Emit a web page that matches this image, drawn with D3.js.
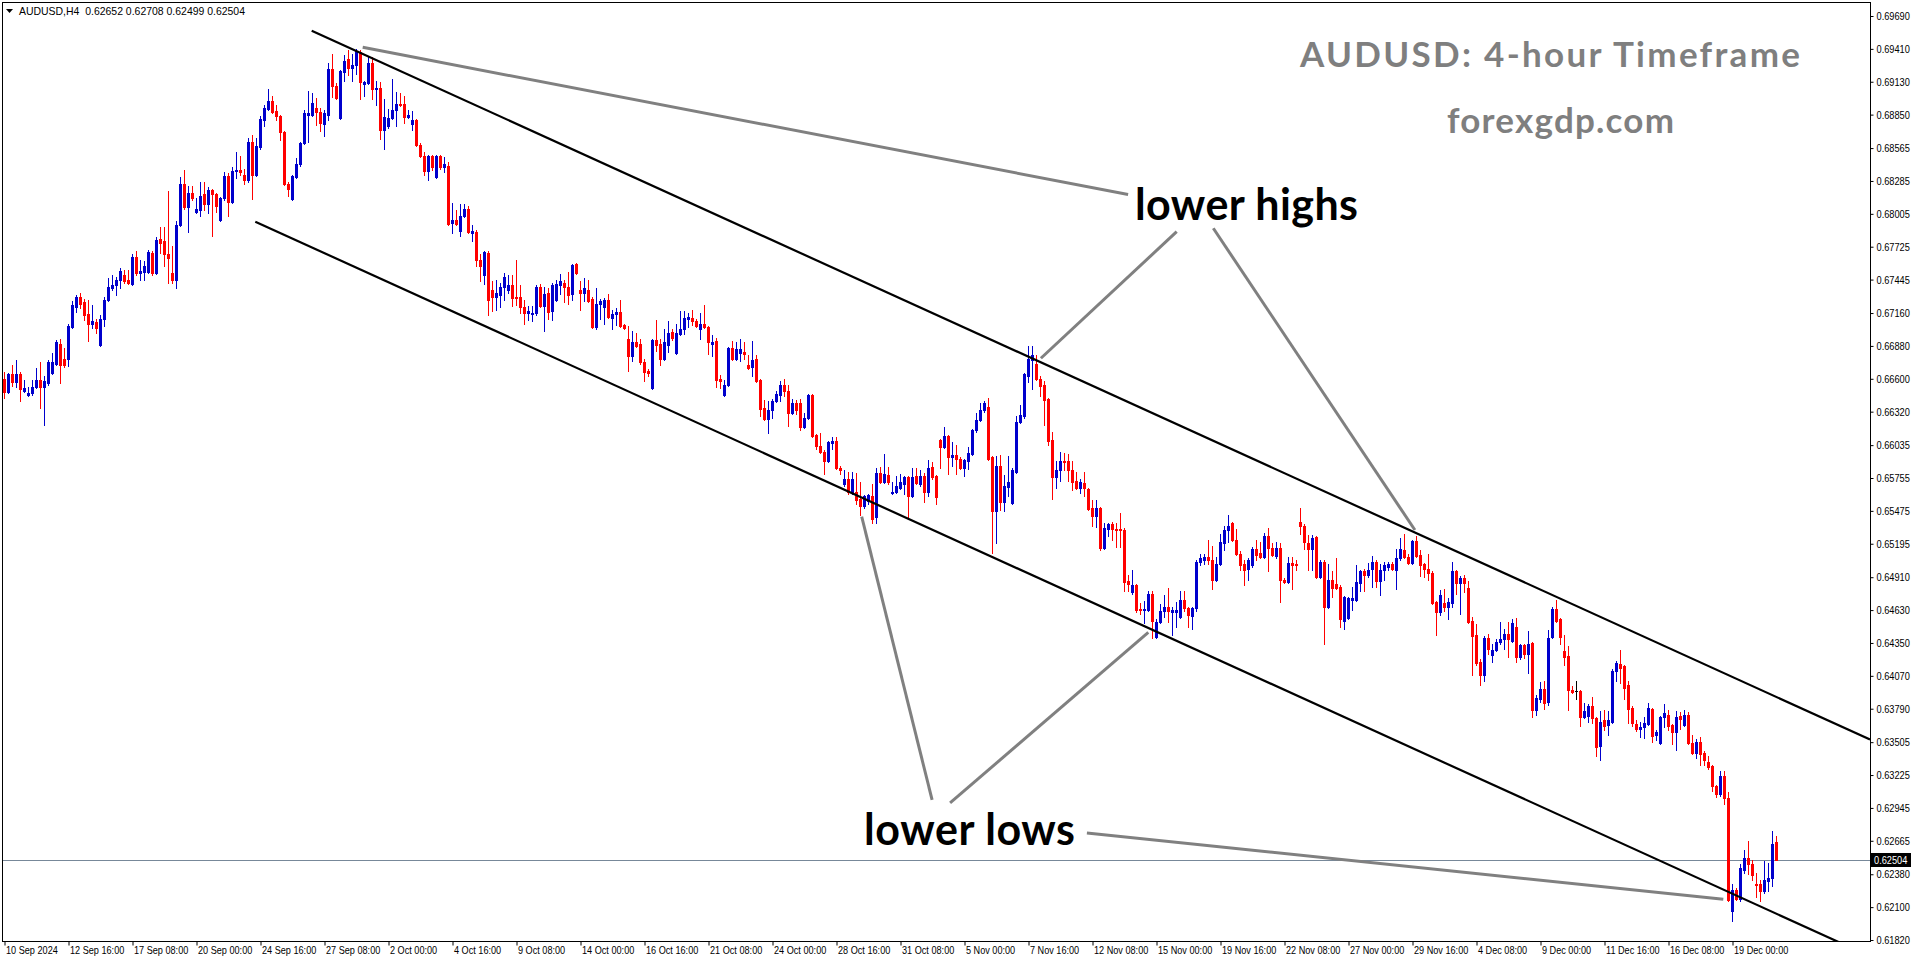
<!DOCTYPE html>
<html><head><meta charset="utf-8">
<script src="https://cdn.jsdelivr.net/npm/d3@7"></script>
<style>
html,body{margin:0;padding:0;background:#fff;}
svg{display:block;}
.ax text,.hdr{font-family:"Liberation Sans Narrow","Arial Narrow","Liberation Sans",sans-serif;font-size:11px;fill:#000;}
.big{font-family:Lato,"Open Sans",sans-serif;font-weight:700;}
</style></head><body>
<svg id="chart" width="1916" height="964"></svg>
<script>
// ---- data (AUDUSD H4, prices) ----
const symbolInfo = "AUDUSD,H4";
const lastOHLC = [0.62652, 0.62708, 0.62499, 0.62504];
const opens = [.6660,.6649,.6664,.6657,.6664,.6650,.6646,.6648,.6653,.6659,
.6653,.6656,.6665,.6673,.6690,.6677,.6677,.6704,.6721,.6730,
.6725,.6715,.6707,.6708,.6689,.6711,.6727,.6737,.6740,.6744,
.6748,.6744,.6741,.6764,.6750,.6751,.6751,.6767,.6750,.6779,
.6777,.6766,.6750,.6744,.6791,.6826,.6806,.6818,.6802,.6804,
.6817,.6809,.6821,.6817,.6795,.6814,.6833,.6811,.6837,.6838,
.6834,.6829,.6862,.6834,.6857,.6880,.6890,.6897,.6888,.6884,
.6870,.6826,.6813,.6832,.6843,.6861,.6885,.6885,.6891,.6887,
.6877,.6885,.6924,.6909,.6882,.6921,.6932,.6925,.6927,.6938,
.6911,.6912,.6929,.6907,.6908,.6872,.6875,.6882,.6889,.6894,
.6894,.6883,.6877,.6880,.6859,.6850,.6837,.6850,.6832,.6850,
.6840,.6841,.6793,.6795,.6786,.6799,.6805,.6784,.6785,.6761,
.6748,.6767,.6736,.6730,.6731,.6738,.6736,.6740,.6730,.6730,
.6721,.6716,.6715,.6716,.6738,.6722,.6733,.6718,.6727,.6740,
.6742,.6738,.6732,.6758,.6736,.6733,.6736,.6728,.6704,.6724,
.6721,.6727,.6712,.6715,.6717,.6706,.6694,.6679,.6691,.6690,
.6674,.6667,.6652,.6693,.6690,.6677,.6689,.6700,.6682,.6698,
.6702,.6711,.6712,.6709,.6702,.6707,.6704,.6690,.6692,.6660,
.6646,.6655,.6686,.6677,.6682,.6683,.6672,.6670,.6677,.6659,
.6635,.6626,.6633,.6641,.6646,.6655,.6650,.6631,.6639,.6639,
.6619,.6627,.6646,.6612,.6603,.6598,.6590,.6605,.6607,.6584,
.6570,.6575,.6564,.6564,.6558,.6552,.6556,.6560,.6542,.6580,
.6572,.6578,.6563,.6564,.6567,.6570,.6576,.6560,.6577,.6570,
.6577,.6564,.6585,.6577,.6608,.6602,.6611,.6593,.6595,.6592,
.6584,.6590,.6596,.6616,.6625,.6633,.6636,.6593,.6547,.6586,
.6555,.6568,.6554,.6581,.6623,.6628,.6662,.6676,.6673,.6660,
.6655,.6643,.6608,.6576,.6582,.6590,.6590,.6582,.6573,.6567,
.6571,.6566,.6550,.6543,.6550,.6516,.6532,.6536,.6532,.6532,
.6531,.6488,.6478,.6484,.6464,.6463,.6463,.6477,.6440,.6453,
.6462,.6466,.6461,.6461,.6457,.6472,.6465,.6458,.6465,.6504,
.6506,.6508,.6506,.6489,.6502,.6520,.6531,.6537,.6523,.6511,
.6502,.6498,.6501,.6515,.6512,.6508,.6526,.6516,.6509,.6516,
.6489,.6487,.6503,.6502,.6538,.6535,.6520,.6515,.6525,.6491,
.6504,.6466,.6489,.6485,.6483,.6454,.6456,.6472,.6472,.6486,
.6496,.6493,.6498,.6504,.6488,.6497,.6500,.6502,.6497,.6507,
.6514,.6508,.6503,.6522,.6510,.6502,.6498,.6495,.6470,.6461,
.6469,.6466,.6469,.6496,.6486,.6490,.6482,.6454,.6442,.6419,
.6408,.6439,.6425,.6429,.6436,.6438,.6443,.6437,.6449,.6423,
.6433,.6426,.6435,.6378,.6387,.6396,.6385,.6440,.6464,.6455,
.6428,.6424,.6395,.6394,.6394,.6372,.6373,.6381,.6371,.6347,
.6369,.6365,.6368,.6411,.6417,.6415,.6399,.6380,.6366,.6362,
.6363,.6366,.6379,.6357,.6350,.6372,.6374,.6365,.6359,.6373,
.6365,.6374,.6350,.6341,.6351,.6341,.6334,.6330,.6313,.6306,
.6322,.6303,.6207,.6225,.6217,.6242,.6252,.6247,.6230,.6230,
.6224,.6232,.6235,.62652];
const highs = [.6666,.6665,.6672,.6676,.6666,.6659,.6653,.6659,.6669,.6674,
.6662,.6676,.6682,.6693,.6694,.6686,.6707,.6726,.6731,.6733,
.6728,.6727,.6723,.6711,.6714,.6730,.6746,.6748,.6747,.6754,
.6753,.6753,.6766,.6769,.6761,.6760,.6770,.6769,.6781,.6789,
.6789,.6820,.6773,.6794,.6832,.6838,.6824,.6824,.6814,.6828,
.6828,.6823,.6822,.6818,.6815,.6836,.6835,.6840,.6853,.6850,
.6839,.6865,.6868,.6865,.6884,.6893,.6907,.6901,.6893,.6885,
.6871,.6828,.6834,.6848,.6862,.6889,.6905,.6903,.6899,.6891,
.6889,.6929,.6937,.6912,.6923,.6936,.6940,.6937,.6941,.6940,
.6914,.6935,.6934,.6914,.6913,.6898,.6890,.6915,.6904,.6903,
.6901,.6889,.6888,.6881,.6861,.6853,.6851,.6851,.6851,.6851,
.6849,.6845,.6810,.6804,.6809,.6809,.6807,.6791,.6787,.6766,
.6769,.6769,.6743,.6744,.6742,.6750,.6748,.6748,.6761,.6740,
.6727,.6722,.6722,.6740,.6741,.6738,.6737,.6742,.6744,.6749,
.6744,.6751,.6758,.6759,.6743,.6746,.6744,.6730,.6737,.6728,
.6729,.6732,.6719,.6720,.6727,.6707,.6705,.6701,.6699,.6694,
.6677,.6668,.6694,.6710,.6694,.6702,.6709,.6702,.6707,.6718,
.6718,.6716,.6719,.6711,.6716,.6723,.6705,.6697,.6695,.6663,
.6659,.6687,.6692,.6691,.6694,.6691,.6680,.6692,.6680,.6660,
.6642,.6641,.6643,.6650,.6658,.6660,.6655,.6643,.6642,.6643,
.6631,.6647,.6647,.6613,.6614,.6599,.6607,.6610,.6610,.6586,
.6582,.6581,.6581,.6580,.6572,.6561,.6562,.6570,.6584,.6585,
.6596,.6585,.6572,.6577,.6579,.6577,.6577,.6584,.6584,.6582,
.6580,.6591,.6589,.6578,.6609,.6619,.6612,.6606,.6604,.6593,
.6592,.6602,.6617,.6631,.6639,.6641,.6644,.6594,.6594,.6595,
.6578,.6594,.6584,.6628,.6638,.6665,.6688,.6688,.6680,.6662,
.6658,.6644,.6615,.6590,.6598,.6597,.6596,.6590,.6581,.6575,
.6581,.6567,.6557,.6557,.6551,.6537,.6537,.6538,.6537,.6546,
.6533,.6493,.6497,.6485,.6469,.6471,.6479,.6479,.6455,.6468,
.6476,.6482,.6466,.6470,.6479,.6479,.6466,.6466,.6506,.6511,
.6511,.6523,.6518,.6508,.6528,.6535,.6544,.6538,.6532,.6513,
.6506,.6507,.6517,.6523,.6521,.6529,.6533,.6520,.6521,.6520,
.6490,.6508,.6508,.6506,.6550,.6536,.6527,.6527,.6526,.6506,
.6506,.6502,.6496,.6507,.6484,.6475,.6474,.6483,.6501,.6497,
.6498,.6503,.6509,.6506,.6502,.6504,.6504,.6504,.6515,.6524,
.6528,.6511,.6523,.6526,.6514,.6503,.6511,.6496,.6471,.6480,
.6481,.6473,.6504,.6497,.6492,.6493,.6488,.6457,.6451,.6421,
.6441,.6443,.6434,.6438,.6453,.6447,.6453,.6455,.6456,.6434,
.6434,.6445,.6436,.6391,.6402,.6403,.6446,.6466,.6472,.6456,
.6442,.6432,.6398,.6403,.6395,.6384,.6383,.6389,.6372,.6377,
.6378,.6377,.6413,.6420,.6429,.6416,.6403,.6381,.6369,.6368,
.6372,.6384,.6380,.6361,.6373,.6383,.6378,.6366,.6377,.6376,
.6378,.6376,.6357,.6353,.6355,.6343,.6339,.6331,.6314,.6326,
.6326,.6308,.6230,.6226,.6247,.6259,.6266,.6250,.6239,.6233,
.6249,.6248,.6275,.62708];
const lows = [.6644,.6648,.6654,.6653,.6641,.6649,.6645,.6646,.6652,.6635,
.6621,.6655,.6664,.6672,.6656,.6670,.6671,.6703,.6717,.6720,
.6710,.6692,.6703,.6699,.6688,.6705,.6726,.6736,.6731,.6737,
.6742,.6741,.6740,.6748,.6744,.6744,.6750,.6748,.6749,.6767,
.6756,.6742,.6742,.6737,.6790,.6805,.6785,.6812,.6801,.6799,
.6804,.6801,.6782,.6802,.6794,.6812,.6799,.6810,.6831,.6834,
.6826,.6828,.6813,.6833,.6856,.6875,.6889,.6886,.6880,.6863,
.6825,.6816,.6812,.6831,.6841,.6860,.6862,.6884,.6876,.6871,
.6867,.6880,.6900,.6898,.6881,.6914,.6919,.6914,.6920,.6898,
.6901,.6911,.6898,.6893,.6864,.6856,.6874,.6881,.6875,.6892,
.6878,.6882,.6872,.6858,.6849,.6834,.6829,.6838,.6831,.6839,
.6836,.6791,.6784,.6791,.6782,.6798,.6784,.6777,.6756,.6743,
.6741,.6714,.6718,.6719,.6721,.6727,.6733,.6722,.6723,.6716,
.6707,.6710,.6709,.6714,.6721,.6701,.6711,.6710,.6726,.6732,
.6725,.6724,.6727,.6749,.6719,.6726,.6725,.6703,.6702,.6711,
.6707,.6712,.6702,.6706,.6704,.6702,.6667,.6675,.6687,.6673,
.6658,.6662,.6651,.6684,.6672,.6676,.6683,.6693,.6681,.6697,
.6698,.6704,.6706,.6704,.6694,.6703,.6681,.6679,.6653,.6652,
.6645,.6654,.6676,.6676,.6675,.6677,.6668,.6662,.6657,.6628,
.6625,.6614,.6627,.6640,.6641,.6645,.6620,.6630,.6630,.6616,
.6618,.6626,.6610,.6600,.6597,.6579,.6589,.6600,.6583,.6579,
.6569,.6562,.6562,.6553,.6544,.6550,.6553,.6537,.6537,.6571,
.6571,.6570,.6562,.6563,.6566,.6562,.6541,.6559,.6570,.6569,
.6555,.6560,.6575,.6553,.6584,.6601,.6579,.6586,.6579,.6583,
.6577,.6583,.6595,.6615,.6624,.6632,.6591,.6512,.6520,.6548,
.6547,.6560,.6553,.6580,.6622,.6627,.6657,.6651,.6659,.6645,
.6621,.6604,.6558,.6567,.6573,.6582,.6573,.6565,.6566,.6563,
.6560,.6548,.6535,.6534,.6514,.6515,.6526,.6523,.6517,.6517,
.6479,.6479,.6477,.6461,.6460,.6452,.6462,.6439,.6439,.6452,
.6457,.6453,.6442,.6449,.6456,.6462,.6449,.6447,.6462,.6501,
.6502,.6502,.6481,.6488,.6501,.6514,.6521,.6522,.6510,.6497,
.6484,.6489,.6500,.6506,.6507,.6507,.6496,.6509,.6507,.6470,
.6486,.6486,.6481,.6497,.6528,.6515,.6497,.6497,.6490,.6490,
.6434,.6465,.6474,.6481,.6449,.6447,.6455,.6463,.6471,.6479,
.6479,.6491,.6483,.6483,.6476,.6489,.6497,.6497,.6481,.6506,
.6507,.6502,.6502,.6508,.6492,.6491,.6489,.6468,.6442,.6459,
.6462,.6455,.6466,.6477,.6460,.6478,.6452,.6408,.6416,.6399,
.6403,.6426,.6419,.6428,.6434,.6430,.6423,.6436,.6419,.6421,
.6422,.6409,.6372,.6374,.6385,.6379,.6382,.6439,.6453,.6434,
.6416,.6378,.6392,.6387,.6364,.6371,.6368,.6367,.6339,.6335,
.6361,.6357,.6367,.6403,.6401,.6387,.6367,.6364,.6360,.6355,
.6354,.6365,.6351,.6352,.6349,.6363,.6361,.6349,.6344,.6362,
.6364,.6349,.6340,.6337,.6331,.6331,.6328,.6309,.6304,.6305,
.6298,.6215,.6198,.6216,.6215,.6239,.6238,.6233,.6219,.6215,
.6222,.6224,.6228,.62499];
const closes = [.6649,.6664,.6657,.6664,.6651,.6652,.6648,.6653,.6659,.6653,
.6658,.6674,.6674,.6691,.6672,.6672,.6705,.6723,.6730,.6724,
.6714,.6707,.6709,.6703,.6711,.6727,.6738,.6740,.6744,.6752,
.6743,.6742,.6764,.6750,.6752,.6756,.6768,.6750,.6778,.6776,
.6766,.6763,.6744,.6791,.6826,.6806,.6818,.6814,.6805,.6816,
.6809,.6821,.6817,.6807,.6814,.6833,.6811,.6837,.6838,.6836,
.6829,.6862,.6834,.6858,.6881,.6891,.6897,.6887,.6884,.6870,
.6826,.6822,.6833,.6843,.6861,.6886,.6886,.6895,.6887,.6878,
.6886,.6924,.6909,.6899,.6922,.6931,.6925,.6927,.6939,.6913,
.6913,.6929,.6907,.6908,.6872,.6883,.6882,.6889,.6894,.6893,
.6883,.6885,.6880,.6859,.6850,.6837,.6850,.6840,.6850,.6840,
.6843,.6792,.6795,.6792,.6799,.6805,.6785,.6786,.6761,.6756,
.6768,.6727,.6730,.6733,.6738,.6747,.6740,.6729,.6729,.6721,
.6716,.6718,.6716,.6738,.6722,.6732,.6717,.6740,.6741,.6743,
.6738,.6731,.6757,.6750,.6733,.6737,.6726,.6704,.6724,.6726,
.6727,.6713,.6715,.6717,.6705,.6703,.6679,.6691,.6688,.6674,
.6666,.6665,.6693,.6689,.6677,.6691,.6699,.6695,.6699,.6702,
.6712,.6713,.6709,.6705,.6707,.6704,.6691,.6691,.6659,.6658,
.6655,.6686,.6677,.6685,.6685,.6681,.6669,.6676,.6658,.6634,
.6626,.6633,.6641,.6647,.6655,.6650,.6631,.6639,.6633,.6619,
.6627,.6646,.6611,.6603,.6598,.6590,.6606,.6607,.6584,.6582,
.6575,.6564,.6575,.6557,.6552,.6560,.6561,.6541,.6580,.6572,
.6579,.6572,.6564,.6569,.6572,.6576,.6560,.6576,.6571,.6577,
.6564,.6584,.6576,.6559,.6602,.6611,.6593,.6595,.6592,.6584,
.6591,.6597,.6616,.6625,.6633,.6639,.6592,.6547,.6586,.6555,
.6569,.6572,.6582,.6623,.6629,.6664,.6677,.6680,.6660,.6654,
.6642,.6607,.6576,.6582,.6590,.6589,.6582,.6572,.6567,.6572,
.6567,.6549,.6543,.6550,.6516,.6533,.6536,.6532,.6531,.6531,
.6487,.6485,.6484,.6463,.6463,.6464,.6477,.6454,.6453,.6462,
.6466,.6462,.6463,.6463,.6472,.6465,.6459,.6465,.6504,.6507,
.6508,.6506,.6489,.6502,.6521,.6531,.6535,.6523,.6511,.6501,
.6497,.6506,.6515,.6510,.6508,.6526,.6516,.6510,.6516,.6489,
.6487,.6503,.6501,.6501,.6535,.6521,.6515,.6524,.6491,.6504,
.6466,.6489,.6482,.6482,.6455,.6474,.6473,.6473,.6487,.6496,
.6493,.6497,.6504,.6488,.6497,.6501,.6502,.6498,.6507,.6515,
.6508,.6503,.6522,.6509,.6501,.6498,.6495,.6469,.6461,.6476,
.6466,.6470,.6496,.6486,.6490,.6486,.6453,.6441,.6418,.6408,
.6439,.6430,.6429,.6436,.6438,.6443,.6438,.6452,.6423,.6433,
.6426,.6434,.6378,.6388,.6396,.6384,.6439,.6464,.6454,.6440,
.6423,.6395,.6393,.6394,.6372,.6377,.6381,.6371,.6346,.6368,
.6364,.6369,.6411,.6418,.6414,.6397,.6379,.6367,.6362,.6363,
.6367,.6380,.6356,.6359,.6372,.6375,.6364,.6359,.6372,.6370,
.6374,.6350,.6341,.6351,.6340,.6335,.6329,.6313,.6306,.6322,
.6303,.6216,.6225,.6217,.6243,.6252,.6247,.6237,.6229,.6224,
.6233,.6235,.6264,.62504];

const yTickLabels = [0.69690,0.69410,0.69130,0.68850,0.68565,0.68285,0.68005,0.67725,0.67445,0.67160,
0.66880,0.66600,0.66320,0.66035,0.65755,0.65475,0.65195,0.64910,0.64630,0.64350,0.64070,0.63790,
0.63505,0.63225,0.62945,0.62665,0.62380,0.62100,0.61820];
const xTickIndex = [0,16,32,48,64,80,96,112,128,144,160,176,192,208,224,240,256,272,288,304,320,336,352,368,384,400,416,432];
const xTickLabels = ["10 Sep 2024","12 Sep 16:00","17 Sep 08:00","20 Sep 00:00","24 Sep 16:00","27 Sep 08:00",
"2 Oct 00:00","4 Oct 16:00","9 Oct 08:00","14 Oct 00:00","16 Oct 16:00","21 Oct 08:00","24 Oct 00:00",
"28 Oct 16:00","31 Oct 08:00","5 Nov 00:00","7 Nov 16:00","12 Nov 08:00","15 Nov 00:00","19 Nov 16:00",
"22 Nov 08:00","27 Nov 00:00","29 Nov 16:00","4 Dec 08:00","9 Dec 00:00","11 Dec 16:00","16 Dec 08:00","19 Dec 00:00"];

// channel lines (bar index, price) anchors
const channelUpper = [[76.8, 0.69565], [408.9, 0.64418]];
const channelLower = [[62.7, 0.67938], [408.9, 0.62572]];
// grey pointer lines (bar index, price)
const pointerLines = [
  [[89.55, 0.69423], [280.9, 0.68170]],
  [[293.05, 0.67853], [259.1, 0.66775]],
  [[302.2, 0.67882], [352.6, 0.65312]],
  [[214.3, 0.65426], [231.9, 0.63013]],
  [[285.95, 0.64441], [236.4, 0.62987]],
  [[270.6, 0.62732], [429.7, 0.62167]]
];
const titleText = "AUDUSD: 4-hour Timeframe";
const siteText = "forexgdp.com";
const noteHighs = "lower highs";
const noteLows = "lower lows";

// ---- layout ----
const W = 1916, H = 964;
const plot = {l: 2, t: 2, r: 1870, b: 941};
const svg = d3.select("#chart");
const x = d3.scaleLinear().domain([0, 1]).range([4.5, 8.5]);
const y = d3.scaleLinear().domain([0.61820, 0.69690]).range([940, 16]);

svg.append("rect").attr("width", W).attr("height", H).attr("fill", "#fff");

const defs = svg.append("defs");
defs.append("clipPath").attr("id", "pc").append("rect")
  .attr("x", plot.l + 1).attr("y", plot.t + 1).attr("width", plot.r - plot.l - 1).attr("height", plot.b - plot.t - 1);

const g = svg.append("g").attr("clip-path", "url(#pc)");

// bid line
g.append("line").attr("x1", plot.l).attr("x2", plot.r)
  .attr("y1", Math.round(y(lastOHLC[3])) + 0.5).attr("y2", Math.round(y(lastOHLC[3])) + 0.5)
  .attr("stroke", "#778899").attr("stroke-width", 1);

// candles
const idx = d3.range(opens.length);
const col = i => closes[i] > opens[i] ? "#0000cc" : (closes[i] < opens[i] ? "#ff0000" : "#000000");
const cg = g.append("g").attr("shape-rendering", "crispEdges");
cg.selectAll("rect.w").data(idx).join("rect").attr("class", "w")
  .attr("x", i => x(i) - 0.5).attr("width", 1)
  .attr("y", i => Math.round(y(highs[i])))
  .attr("height", i => Math.max(1, Math.round(y(lows[i])) - Math.round(y(highs[i])) + 1))
  .attr("fill", col);
cg.selectAll("rect.b").data(idx).join("rect").attr("class", "b")
  .attr("x", i => x(i) - 1.5).attr("width", 3)
  .attr("y", i => Math.round(y(Math.max(opens[i], closes[i]))))
  .attr("height", i => Math.max(1, Math.round(y(Math.min(opens[i], closes[i]))) - Math.round(y(Math.max(opens[i], closes[i]))) + 1))
  .attr("fill", col);

// channel lines extended to right edge
const iEnd = x.invert(plot.r);
function extend(a) {
  const [p, q] = a; const s = (q[1] - p[1]) / (q[0] - p[0]);
  return [p, [iEnd, p[1] + s * (iEnd - p[0])]];
}
[channelUpper, channelLower].forEach(c => {
  const e = extend(c);
  g.append("line").attr("x1", x(e[0][0])).attr("y1", y(e[0][1])).attr("x2", x(e[1][0])).attr("y2", y(e[1][1]))
    .attr("stroke", "#000").attr("stroke-width", 2.2);
});

// pointer lines
pointerLines.forEach(pl => {
  g.append("line").attr("x1", x(pl[0][0])).attr("y1", y(pl[0][1])).attr("x2", x(pl[1][0])).attr("y2", y(pl[1][1]))
    .attr("stroke", "#808080").attr("stroke-width", 3);
});

// texts
svg.append("text").attr("class", "big").attr("x", 1300).attr("y", 67).attr("font-size", 35)
  .attr("fill", "#7f7f7f").attr("textLength", 500).text(titleText);
svg.append("text").attr("class", "big").attr("x", 1447).attr("y", 133).attr("font-size", 35)
  .attr("fill", "#7f7f7f").attr("textLength", 227).text(siteText);
svg.append("text").attr("class", "big").attr("x", 1135).attr("y", 220).attr("font-size", 43)
  .attr("fill", "#000").attr("textLength", 223).text(noteHighs);
svg.append("text").attr("class", "big").attr("x", 864).attr("y", 845).attr("font-size", 43)
  .attr("fill", "#000").attr("textLength", 211).text(noteLows);

// frame
svg.append("rect").attr("x", plot.l + 0.5).attr("y", plot.t + 0.5)
  .attr("width", plot.r - plot.l).attr("height", plot.b - plot.t)
  .attr("fill", "none").attr("stroke", "#000").attr("stroke-width", 1).attr("shape-rendering", "crispEdges");

// narrow (Tahoma-like) text: condense the fallback font horizontally
function condense(sel, k) {
  sel.each(function() {
    const n = this.getComputedTextLength();
    if (n > 0) d3.select(this).attr("textLength", (n * k).toFixed(1)).attr("lengthAdjust", "spacingAndGlyphs");
  });
}

// y axis
const ya = svg.append("g").attr("class", "ax").attr("transform", `translate(${plot.r + 0.5},0)`)
  .call(d3.axisRight(y).tickValues(yTickLabels).tickSize(3).tickPadding(3).tickFormat(d3.format(".5f")));
ya.select(".domain").remove();
ya.selectAll(".tick line").attr("stroke", "#000");
condense(ya.selectAll(".tick text"), 0.84);

// x axis
const xa = svg.append("g").attr("class", "ax").attr("transform", `translate(0,${plot.b + 0.5})`)
  .call(d3.axisBottom(x).tickValues(xTickIndex).tickSize(4).tickFormat((d, i) => xTickLabels[i]));
xa.select(".domain").remove();
xa.selectAll(".tick line").attr("stroke", "#000");
xa.selectAll(".tick text").attr("text-anchor", "start").attr("x", 1).attr("y", 5).attr("dy", "0.71em");
condense(xa.selectAll(".tick text"), 0.83);

// current price tag
const yp = Math.round(y(lastOHLC[3]));
svg.append("rect").attr("x", plot.r + 1).attr("y", yp - 7).attr("width", 40).attr("height", 14).attr("fill", "#000");
const tag = svg.append("text").attr("class", "hdr").attr("x", plot.r + 4).attr("y", yp).attr("dy", "0.35em")
  .style("fill", "#fff").text(d3.format(".5f")(lastOHLC[3]));
condense(tag, 0.84);

// header
svg.append("path").attr("d", "M6,9 L13,9 L9.5,13 Z").attr("fill", "#000");
const hdr = svg.append("text").attr("class", "hdr").attr("x", 19).attr("y", 15)
  .attr("xml:space", "preserve")
  .text(symbolInfo + "  " + lastOHLC.map(d3.format(".5f")).join(" "));
condense(hdr, 0.95);
</script>
</body></html>
